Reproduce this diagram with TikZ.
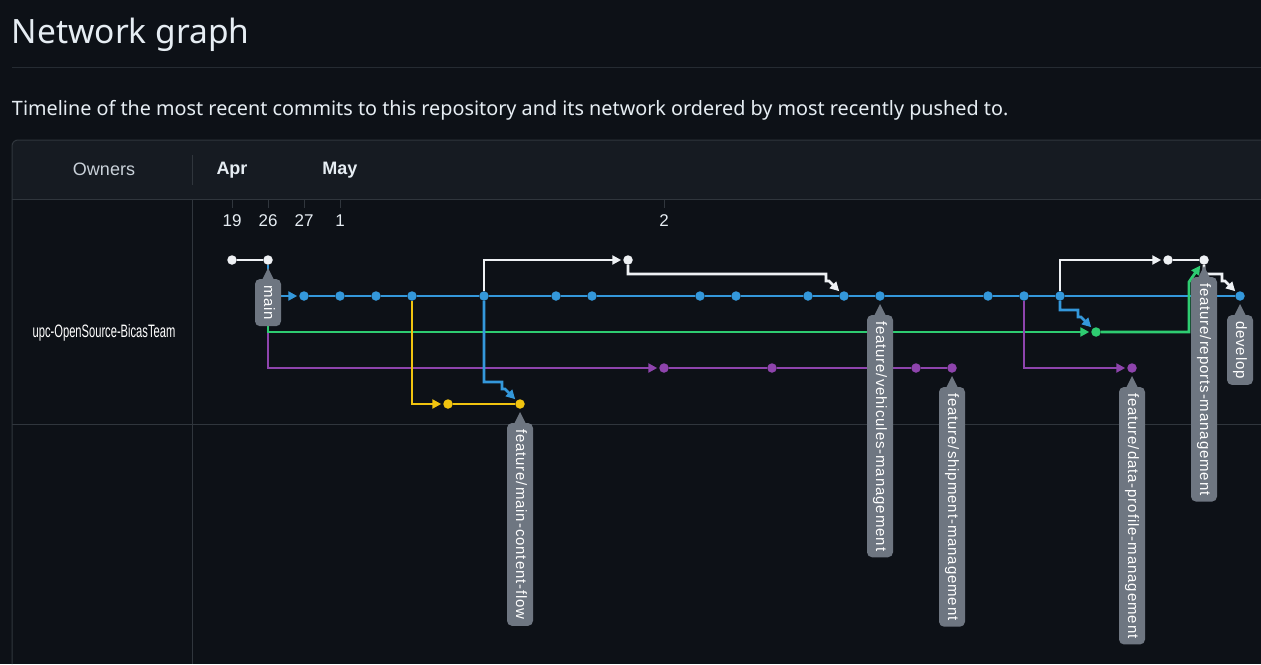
\documentclass[tikz,border=0pt]{standalone}
\usepackage{fontspec}
\setmainfont{Noto Sans}
\newfontfamily\graphfont{Liberation Sans}
\newfontfamily\tagfont{Liberation Sans}[LetterSpace=6]
\usetikzlibrary{arrows.meta,calc,positioning}
\definecolor{pagebg}{HTML}{0D1117}
\definecolor{headbg}{HTML}{161B22}
\definecolor{gridcol}{HTML}{30363D}
\definecolor{fg}{HTML}{E6EDF3}
\definecolor{mutedfg}{HTML}{C9D1D9}
\definecolor{tagfill}{HTML}{6E7681}
\definecolor{cwhite}{HTML}{EEF1F4}
\definecolor{cblue}{HTML}{3498DB}
\definecolor{cgreen}{HTML}{2ECC71}
\definecolor{cpurple}{HTML}{8E44AD}
\definecolor{cyellow}{HTML}{F1C40F}

\begin{document}
\begin{tikzpicture}[x=1pt,y=-1pt,every node/.style={outer sep=0pt},
        commit/.style={circle,fill=#1,inner sep=0pt,minimum size=9.5pt},
        branch/.style={draw=#1,line width=2.8pt},
        push/.style={branch=#1,-{Triangle[length=9pt,width=9pt]},shorten >=2pt},
        merge/.style={push=#1,to path={|- ($(\tikztotarget)+(-18,-22)$) -- ++(0,7) -- ++(3,0) -- (\tikztotarget)}},
        tag/.style={rotate=-90,anchor=west,fill=tagfill,text=white,rounded corners=5pt,
        minimum height=26pt,inner xsep=6pt,inner ysep=0pt,text height=11pt,text depth=3pt,
        font=\tagfont\fontsize{15}{15}\selectfont},
        tagtip/.pic={\fill[tagfill] (-6,1) -- (0,-11) -- (6,1) -- cycle;},
        gridline/.style={draw=gridcol,line width=1pt},
        heading/.style={font=\graphfont\fontsize{18}{18}\selectfont,text=#1},
        day/.style={font=\graphfont\fontsize{17}{17}\selectfont,text=fg}]

        \useasboundingbox[fill=pagebg] (0,0) rectangle (1261,664);
        % Title
        \node[anchor=base west,inner sep=0pt,text=fg,font=\fontsize{33.5}{33.5}\selectfont] (title) at (12,43) {Network graph};
        \draw[draw=gridcol!70!pagebg,line width=1pt] (12,67) -- (1261,67);
        \node[anchor=base west,inner sep=0pt,text=fg,font=\fontsize{19.8}{19.8}\selectfont] (subtitle) at (12,115)
        {Timeline of the most recent commits to this repository and its network ordered by most recently pushed to.};

        % Frame
        \fill[headbg,rounded corners=6pt] (12,140) rectangle (1270,199);
        \fill[headbg] (12,180) rectangle (1270,199);
        \draw[gridline,rounded corners=6pt] (12,664) |- (1270,140);
        \draw[gridline] (12,199) -- (1270,199);
        \draw[gridline] (192,155) -- (192,185);
        \draw[gridline] (192,199) -- (192,664);
        \draw[gridline] (12,424) -- (1270,424);

        % Header
        \node[heading=mutedfg] (owners) at (104,169) {Owners};
        \node[heading=fg,font=\graphfont\bfseries\fontsize{18}{18}\selectfont] (apr) at (232,170) {Apr};
        \node[heading=fg,font=\graphfont\bfseries\fontsize{18}{18}\selectfont] (may) at (340,170) {May};
        \foreach \x/\d in {232/19,268/26,304/27,340/1,664/2}{
          \draw[gridline] (\x,200) -- (\x,208);
          \node[day] (day\d) at (\x,221) {\d};
        }
        \node[heading=white,font=\graphfont\fontsize{18}{18}\selectfont] (owner) at (104,333)
        {\scalebox{0.62}[1]{upc-OpenSource-BicasTeam}};

        % Commits
        \foreach \i/\x in {0/232,1/268,2/628,3/1168,4/1204}
          \node[commit=cwhite] (w\i) at (\x,260) {};
        \foreach \i/\x in {1/304,2/340,3/376,4/412,5/484,6/556,7/592,8/700,9/736,10/808,11/844,12/880,13/988,14/1024,15/1060,16/1240}
          \node[commit=cblue] (b\i) at (\x,296) {};
        \node[commit=cgreen] (g1) at (1096,332) {};
        \foreach \i/\x in {1/664,2/772,3/916,4/952,5/1132}
          \node[commit=cpurple] (p\i) at (\x,368) {};
        \node[commit=cyellow] (y1) at (448,404) {};
        \node[commit=cyellow] (y2) at (520,404) {};

        % Branches
        \draw[push=cpurple] (w1) |- (p1);
        \draw[push=cgreen] (w1) |- (g1);
        \draw[push=cblue] (w1) |- (b1);
        \draw[branch=cwhite] (w0) -- (w1);
        \draw[branch=cblue] (b1) -- (b2) -- (b3) -- (b4) -- (b5) -- (b6) -- (b7) -- (b8) -- (b9)
          -- (b10) -- (b11) -- (b12) -- (b13) -- (b14) -- (b15) -- (b16);
        \draw[branch=cpurple] (p1) -- (p2) -- (p3) -- (p4);
        \draw[push=cyellow] (b4) |- (y1);
        \draw[branch=cyellow] (y1) -- (y2);
        \draw[push=cwhite] (b5) |- (w2);
        \draw[push=cpurple] (b14) |- (p5);
        \draw[push=cwhite] (b15) |- (w3);
        \draw[branch=cwhite] (w3) -- (w4);
        \draw[push=cgreen] (g1) -| ($(w4)+(-15,22)$) -- (w4);
        % Merges
        \draw[merge=cblue] (b5) to (y2);
        \draw[merge=cwhite] (w2) to (b11);
        \draw[merge=cblue] (b15) to (g1);
        \draw[merge=cwhite] (w4) to (b16);

        % Branch tags
        \node[tag] (tmain) at ([yshift=-19pt]w1.center) {main};
        \node[tag] (tflow) at ([yshift=-19pt]y2.center) {feature/main-content-flow};
        \node[tag] (tvehicle) at ([yshift=-19pt]b12.center) {feature/vehicules-management};
        \node[tag] (tshipment) at ([yshift=-19pt]p4.center) {feature/shipment-management};
        \node[tag] (tprofile) at ([yshift=-19pt]p5.center) {feature/data-profile-management};
        \node[tag] (treports) at ([yshift=-17pt]w4.center) {feature/reports-management};
        \node[tag] (tdevelop) at ([yshift=-19pt]b16.center) {develop};
        \foreach \t in {tmain,tflow,tvehicle,tshipment,tprofile,treports,tdevelop}
          \pic at (\t.west) {tagtip};

\end{tikzpicture}
\end{document}
